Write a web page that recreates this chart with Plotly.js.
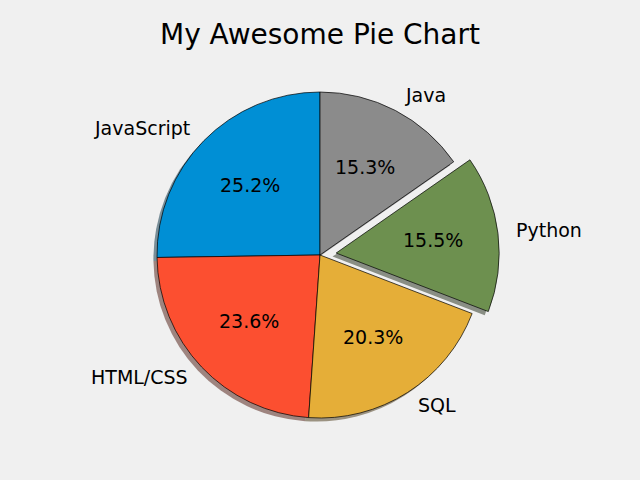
<!DOCTYPE html>
<html>
<head>
<meta charset="utf-8">
<script src="https://cdn.plot.ly/plotly-3.0.1.min.js"></script>
<style>html,body{margin:0;padding:0;background:#f0f0f0;}#chart{width:640px;height:480px;}</style>
</head>
<body>
<div id="chart"></div>
<script>
const labels = ['JavaScript', 'HTML/CSS', 'SQL', 'Python', 'Java'];
const slices = [59219, 55466, 47544, 36443, 35917];
const explode = [0, 0, 0, 0.1, 0];
const colors = ['#008fd5', '#fc4f30', '#e5ae38', '#6d904f', '#8b8b8b'];

const W = 640, H = 480;
const cxPx = 320, cyPx = 255, rPx = 163;
const maxPull = Math.max(...explode);
const halfBox = rPx * (1 + maxPull);
const dom = {
  x: [(cxPx - halfBox) / W, (cxPx + halfBox) / W],
  y: [1 - (cyPx + halfBox) / H, 1 - (cyPx - halfBox) / H]
};
const sh = 0.022 * rPx;
const shDom = {
  x: [dom.x[0] - sh / W, dom.x[1] - sh / W],
  y: [dom.y[0] - sh / H, dom.y[1] - sh / H]
};

function shadowColor(hex) {
  const n = parseInt(hex.slice(1), 16);
  const r = (n >> 16) & 255, g = (n >> 8) & 255, b = n & 255;
  return `rgba(${Math.round(r*0.3)},${Math.round(g*0.3)},${Math.round(b*0.3)},0.5)`;
}

const total = slices.reduce((a, b) => a + b, 0);
// Plotly's counterclockwise layout ends the first slice at the rotation angle;
// shift so the first slice starts at 12 o'clock like matplotlib startangle=90.
const rot = -360 * slices[0] / total;

const annotations = [];
let cum = 0;
slices.forEach((v, i) => {
  const frac = v / total;
  const mid = (90 + 360 * (cum + frac / 2)) * Math.PI / 180;
  cum += frac;
  const ox = cxPx + explode[i] * rPx * Math.cos(mid);
  const oy = cyPx - explode[i] * rPx * Math.sin(mid);
  const lx = ox + 1.1 * rPx * Math.cos(mid);
  const ly = oy - 1.1 * rPx * Math.sin(mid);
  const px = ox + 0.6 * rPx * Math.cos(mid);
  const py = oy - 0.6 * rPx * Math.sin(mid);
  annotations.push({
    text: labels[i], x: lx / W, y: 1 - (ly - 1) / H, xref: 'paper', yref: 'paper',
    xanchor: Math.cos(mid) > 0 ? 'left' : 'right', yanchor: 'middle', showarrow: false,
    font: {family: 'DejaVu Sans', size: 19, color: '#000'}
  });
  annotations.push({
    text: (frac * 100).toFixed(1) + '%', x: px / W, y: 1 - (py - 1) / H, xref: 'paper', yref: 'paper',
    xanchor: 'center', yanchor: 'middle', showarrow: false,
    font: {family: 'DejaVu Sans', size: 19, color: '#000'}
  });
});

const data = [
  {
    type: 'pie', labels: labels, values: slices, pull: explode, sort: false,
    direction: 'counterclockwise', rotation: rot, domain: shDom,
    marker: {colors: colors.map(shadowColor), line: {width: 0}},
    textinfo: 'none', hoverinfo: 'skip', showlegend: false
  },
  {
    type: 'pie', labels: labels, values: slices, pull: explode, sort: false,
    direction: 'counterclockwise', rotation: rot, domain: dom,
    marker: {colors: colors, line: {color: '#000', width: 0.7}},
    textinfo: 'none', showlegend: false
  }
];

const layout = {
  width: W, height: H,
  margin: {l: 0, r: 0, t: 0, b: 0},
  paper_bgcolor: '#f0f0f0', plot_bgcolor: '#f0f0f0',
  showlegend: false,
  title: {text: 'My Awesome Pie Chart', x: 0.5, xanchor: 'center', y: 1 - 34 / H, yanchor: 'middle',
    font: {family: 'DejaVu Sans', size: 28, color: '#000'}},
  annotations: annotations
};

Plotly.newPlot('chart', data, layout, {displayModeBar: false, staticPlot: true});
</script>
</body>
</html>
